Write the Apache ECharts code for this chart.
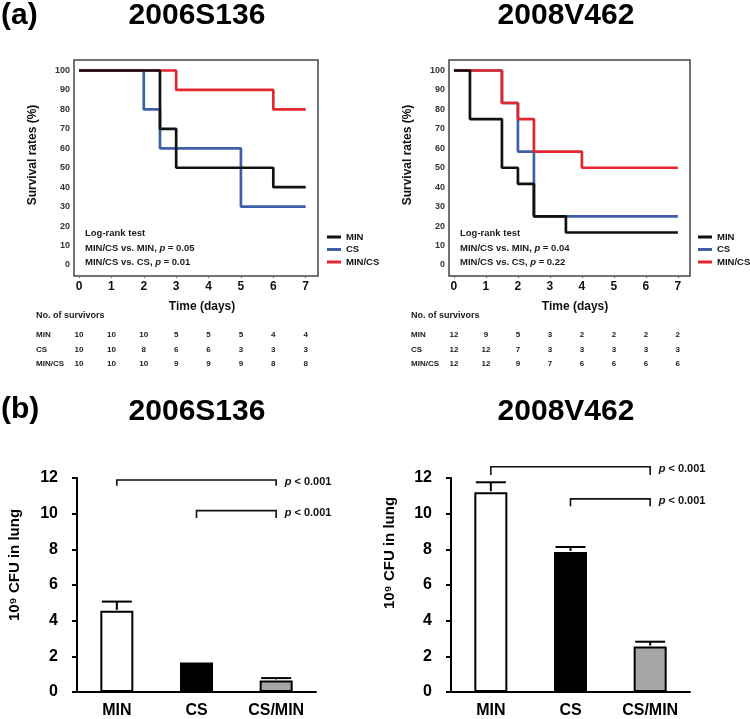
<!DOCTYPE html>
<html><head><meta charset="utf-8">
<script src="https://cdn.jsdelivr.net/npm/echarts@6/dist/echarts.min.js"></script>
<style>html,body{margin:0;padding:0;background:#fff}#c{width:750px;height:719px}</style>
</head><body><div id="c"></div>
<script>
const F = "'Liberation Sans', Arial, Helvetica, sans-serif";

// ---------- (a) survival data ----------
const days = [0, 1, 2, 3, 4, 5, 6, 7];
const yTicksKM = [0, 10, 20, 30, 40, 50, 60, 70, 80, 90, 100];
const groupNames = ['MIN', 'CS', 'MIN/CS'];
// 2006S136 : change times and survival (%) from each time
const a_MIN_t = [0, 2.5, 3, 6, 7];
const a_MIN_s = [100, 70, 50, 40, 40];
const a_CS_t = [0, 2, 2.5, 5, 7];
const a_CS_s = [100, 80, 60, 30, 30];
const a_MINCS_t = [0, 3, 6, 7];
const a_MINCS_s = [100, 90, 80, 80];
// 2008V462
const b_MIN_t = [0, 0.5, 1.5, 2, 2.5, 3.5, 7];
const b_MIN_s = [100, 75, 50, 41.7, 25, 16.7, 16.7];
const b_CS_t = [0, 1.5, 2, 2.5, 7];
const b_CS_s = [100, 83.3, 58.3, 25, 25];
const b_MINCS_t = [0, 1.5, 2, 2.5, 4, 7];
const b_MINCS_s = [100, 83.3, 75, 58.3, 50, 50];
// number of survivors per day
const survA_MIN = [10, 10, 10, 5, 5, 5, 4, 4];
const survA_CS = [10, 10, 8, 6, 6, 3, 3, 3];
const survA_MINCS = [10, 10, 10, 9, 9, 9, 8, 8];
const survB_MIN = [12, 9, 5, 3, 2, 2, 2, 2];
const survB_CS = [12, 12, 7, 3, 3, 3, 3, 3];
const survB_MINCS = [12, 12, 9, 7, 6, 6, 6, 6];
const logrankA = [['MIN/CS vs. MIN', '0.05'], ['MIN/CS vs. CS', '0.01']];
const logrankB = [['MIN/CS vs. MIN', '0.04'], ['MIN/CS vs. CS', '0.22']];

// ---------- (b) lung CFU ----------
const barCats = ['MIN', 'CS', 'CS/MIN'];
const barA_mean = [4.55, 1.65, 0.65];
const barA_err = [0.52, 0, 0.13];
const barB_mean = [11.2, 7.85, 2.55];
const barB_err = [0.56, 0.28, 0.27];
// significance brackets: [fromCat, toCat, lineLevel, tickEndLevel]
const bracketsA = [[0, 2, 11.89, 11.56], [1, 2, 10.17, 9.76]];
const bracketsB = [[0, 2, 12.63, 12.17], [1, 2, 10.83, 10.41]];

const colMIN = '#111111', colCS = '#3f5ea8', colMINCS = '#e3262d';
const barFill = ['#ffffff', '#000000', '#a6a6a6'];

const zip = (t, s) => t.map((v, i) => [v, s[i]]);

function kmSeries(name, t, s, color, idx, z) {
  return {
    type: 'line', name, xAxisIndex: idx, yAxisIndex: idx, step: 'end',
    data: zip(t, s), symbol: 'none', z,
    lineStyle: { color, width: 2.7 }, itemStyle: { color },
    emphasis: { disabled: true }, silent: true, animation: false
  };
}

function kmX(idx) {
  return {
    type: 'value', gridIndex: idx, min: -0.155, max: 7.38,
    axisLine: { show: false, onZero: false }, splitLine: { show: false },
    axisTick: { show: true, customValues: days, length: 2, lineStyle: { color: '#666' } },
    axisLabel: { customValues: days, fontSize: 12, fontWeight: 'bold', fontFamily: F, color: '#111', margin: 5 }
  };
}
function kmY(idx) {
  return {
    type: 'value', gridIndex: idx, min: -5.66, max: 105.4,
    axisLine: { show: false, onZero: false }, splitLine: { show: false }, axisTick: { show: false },
    axisLabel: { customValues: yTicksKM, fontSize: 9, fontWeight: 'bold', fontFamily: F, color: '#333', margin: 4 }
  };
}
function barX(idx) {
  return {
    type: 'category', gridIndex: idx, data: barCats,
    axisLine: { show: true, lineStyle: { color: '#000', width: 2 } },
    axisTick: { show: false },
    axisLabel: { fontSize: 16, fontWeight: 'bold', fontFamily: F, color: '#000', margin: 11 }
  };
}
function barY(idx) {
  return {
    type: 'value', gridIndex: idx, min: 0, max: 12, interval: 2,
    axisLine: { show: true, lineStyle: { color: '#000', width: 2 } },
    axisTick: { show: true, length: 5, lineStyle: { color: '#000', width: 2 } },
    splitLine: { show: false },
    axisLabel: { fontSize: 16, fontWeight: 'bold', fontFamily: F, color: '#000', margin: 19 }
  };
}
function barSeries(idx, means) {
  return {
    type: 'bar', xAxisIndex: idx, yAxisIndex: idx, barWidth: 33, silent: true, animation: false,
    data: means.map((v, i) => ({ value: v, itemStyle: { color: barFill[i] } })),
    itemStyle: { borderColor: '#000', borderWidth: 2 }
  };
}
function errSeries(idx, means, errs) {
  return {
    type: 'custom', xAxisIndex: idx, yAxisIndex: idx, silent: true, animation: false, clip: false, z: 5,
    encode: { x: 0, y: 1 },
    data: means.map((m, i) => [i, m, errs[i]]),
    renderItem(params, api) {
      const x = api.value(0), m = api.value(1), e = api.value(2);
      if (!e) return null;
      const p0 = api.coord([x, m]), p1 = api.coord([x, m + e]);
      return {
        type: 'group', children: [
          { type: 'line', shape: { x1: p0[0], y1: p0[1] - 1, x2: p1[0], y2: p1[1] }, style: { stroke: '#000', lineWidth: 2 } },
          { type: 'line', shape: { x1: p1[0] - 15, y1: p1[1], x2: p1[0] + 15, y2: p1[1] }, style: { stroke: '#000', lineWidth: 2 } }
        ]
      };
    }
  };
}
function bracketSeries(idx, br) {
  return {
    type: 'custom', xAxisIndex: idx, yAxisIndex: idx, silent: true, animation: false, clip: false, z: 5,
    encode: { x: 0, y: 2 },
    data: br,
    renderItem(params, api) {
      const a = api.value(0), b = api.value(1), top = api.value(2), bot = api.value(3);
      const pA = api.coord([a, top]), pB = api.coord([b, top]);
      const pAb = api.coord([a, bot]), pBb = api.coord([b, bot]);
      return {
        type: 'group', children: [
          { type: 'polyline', shape: { points: [[pAb[0], pAb[1]], [pA[0], pA[1]], [pB[0], pB[1]], [pBb[0], pBb[1]]] },
            style: { stroke: '#111', lineWidth: 1.6, fill: null } },
          { type: 'text', style: {
              x: pB[0] + 8.5, y: pB[1] + 2, text: '{i|p} < 0.001', align: 'left', verticalAlign: 'middle',
              fill: '#111', fontSize: 11, fontWeight: 'bold', fontFamily: F,
              rich: { i: { fontStyle: 'italic', fontWeight: 'bold', fontSize: 11, fontFamily: F, fill: '#111' } }
            } }
        ]
      };
    }
  };
}
function legend(left) {
  return {
    data: groupNames, orient: 'vertical', left, top: 232, padding: 0, itemGap: 2.5,
    itemWidth: 14, itemHeight: 3, icon: 'rect', selectedMode: false,
    textStyle: { fontSize: 9.5, fontWeight: 'bold', fontFamily: F, color: '#111', padding: [0, 0, 0, 0] }
  };
}

const chart = echarts.init(document.getElementById('c'), null, { renderer: 'canvas' });
chart.setOption({
  animation: false,
  backgroundColor: '#fff',
  grid: [
    { left: 74, right: 432, top: 60, bottom: 443, show: true, borderColor: '#444', borderWidth: 1.5, backgroundColor: 'transparent' },
    { left: 449, right: 60, top: 60, bottom: 443, show: true, borderColor: '#444', borderWidth: 1.5, backgroundColor: 'transparent' },
    { left: 77, right: 434, top: 478, bottom: 25 },
    { left: 451, right: 60, top: 478, bottom: 25 }
  ],
  xAxis: [kmX(0), kmX(1), barX(2), barX(3)],
  yAxis: [kmY(0), kmY(1), barY(2), barY(3)],
  legend: [legend(327), legend(698)],
  series: [
    kmSeries('CS', a_CS_t, a_CS_s, colCS, 0, 2),
    kmSeries('MIN/CS', a_MINCS_t, a_MINCS_s, colMINCS, 0, 3),
    kmSeries('MIN', a_MIN_t, a_MIN_s, colMIN, 0, 4),
    kmSeries('CS', b_CS_t, b_CS_s, colCS, 1, 2),
    kmSeries('MIN/CS', b_MINCS_t, b_MINCS_s, colMINCS, 1, 3),
    kmSeries('MIN', b_MIN_t, b_MIN_s, colMIN, 1, 4),
    barSeries(2, barA_mean), errSeries(2, barA_mean, barA_err), bracketSeries(2, bracketsA),
    barSeries(3, barB_mean), errSeries(3, barB_mean, barB_err), bracketSeries(3, bracketsB)
  ]
});

function T(x, y, text, size, extra) {
  return Object.assign({
    type: 'text', x, y, silent: true,
    style: Object.assign({ text, fontSize: size, fontWeight: 'bold', fontFamily: F, fill: '#000', align: 'center', verticalAlign: 'middle' }, (extra && extra.style) || {})
  }, extra && extra.rotation ? { rotation: extra.rotation } : {});
}
const richP = (size) => ({ i: { fontStyle: 'italic', fontWeight: 'bold', fontSize: size, fontFamily: F, fill: '#1a1a1a' } });

const g = [];
// panel labels & titles
g.push(T(1, 16, '(a)', 30, { style: { align: 'left' } }));
g.push(T(197, 15.5, '2006S136', 30));
g.push(T(566, 15.5, '2008V462', 30));
g.push(T(1, 410, '(b)', 30, { style: { align: 'left' } }));
g.push(T(197, 412, '2006S136', 30));
g.push(T(566, 412, '2008V462', 30));
// KM axis titles
g.push(T(33, 155, 'Survival rates (%)', 12, { rotation: Math.PI / 2, style: { fill: '#111' } }));
g.push(T(408, 155, 'Survival rates (%)', 12, { rotation: Math.PI / 2, style: { fill: '#111' } }));
g.push(T(202, 307, 'Time (days)', 12, { style: { fill: '#111' } }));
g.push(T(575, 307, 'Time (days)', 12, { style: { fill: '#111' } }));
// bar axis titles
g.push(T(15, 565, '10⁹ CFU in lung', 15, { rotation: Math.PI / 2 }));
g.push(T(390, 553, '10⁹ CFU in lung', 15, { rotation: Math.PI / 2 }));
// log-rank annotations
function logrank(x, arr) {
  g.push(T(x, 233, 'Log-rank test', 9.5, { style: { align: 'left', fill: '#1a1a1a' } }));
  arr.forEach((r, i) => {
    g.push(T(x, 248 + i * 14.5, r[0] + ', {i|p} = ' + r[1], 9.5, { style: { align: 'left', fill: '#1a1a1a', rich: richP(9.5) } }));
  });
}
logrank(85, logrankA);
logrank(460, logrankB);
// survivor tables
function table(axisIdx, labelX, rows) {
  g.push(T(labelX, 316, 'No. of survivors', 9, { style: { align: 'left', fill: '#1a1a1a' } }));
  const ys = [335, 350, 364];
  rows.forEach((r, ri) => {
    g.push(T(labelX, ys[ri], groupNames[ri], 8, { style: { align: 'left', fill: '#1a1a1a' } }));
    r.forEach((v, di) => {
      const px = chart.convertToPixel({ xAxisIndex: axisIdx }, days[di]);
      g.push(T(px, ys[ri], String(v), 8, { style: { fill: '#1a1a1a' } }));
    });
  });
}
table(0, 36, [survA_MIN, survA_CS, survA_MINCS]);
table(1, 411, [survB_MIN, survB_CS, survB_MINCS]);

chart.setOption({ graphic: { elements: g } });
</script>
</body></html>
